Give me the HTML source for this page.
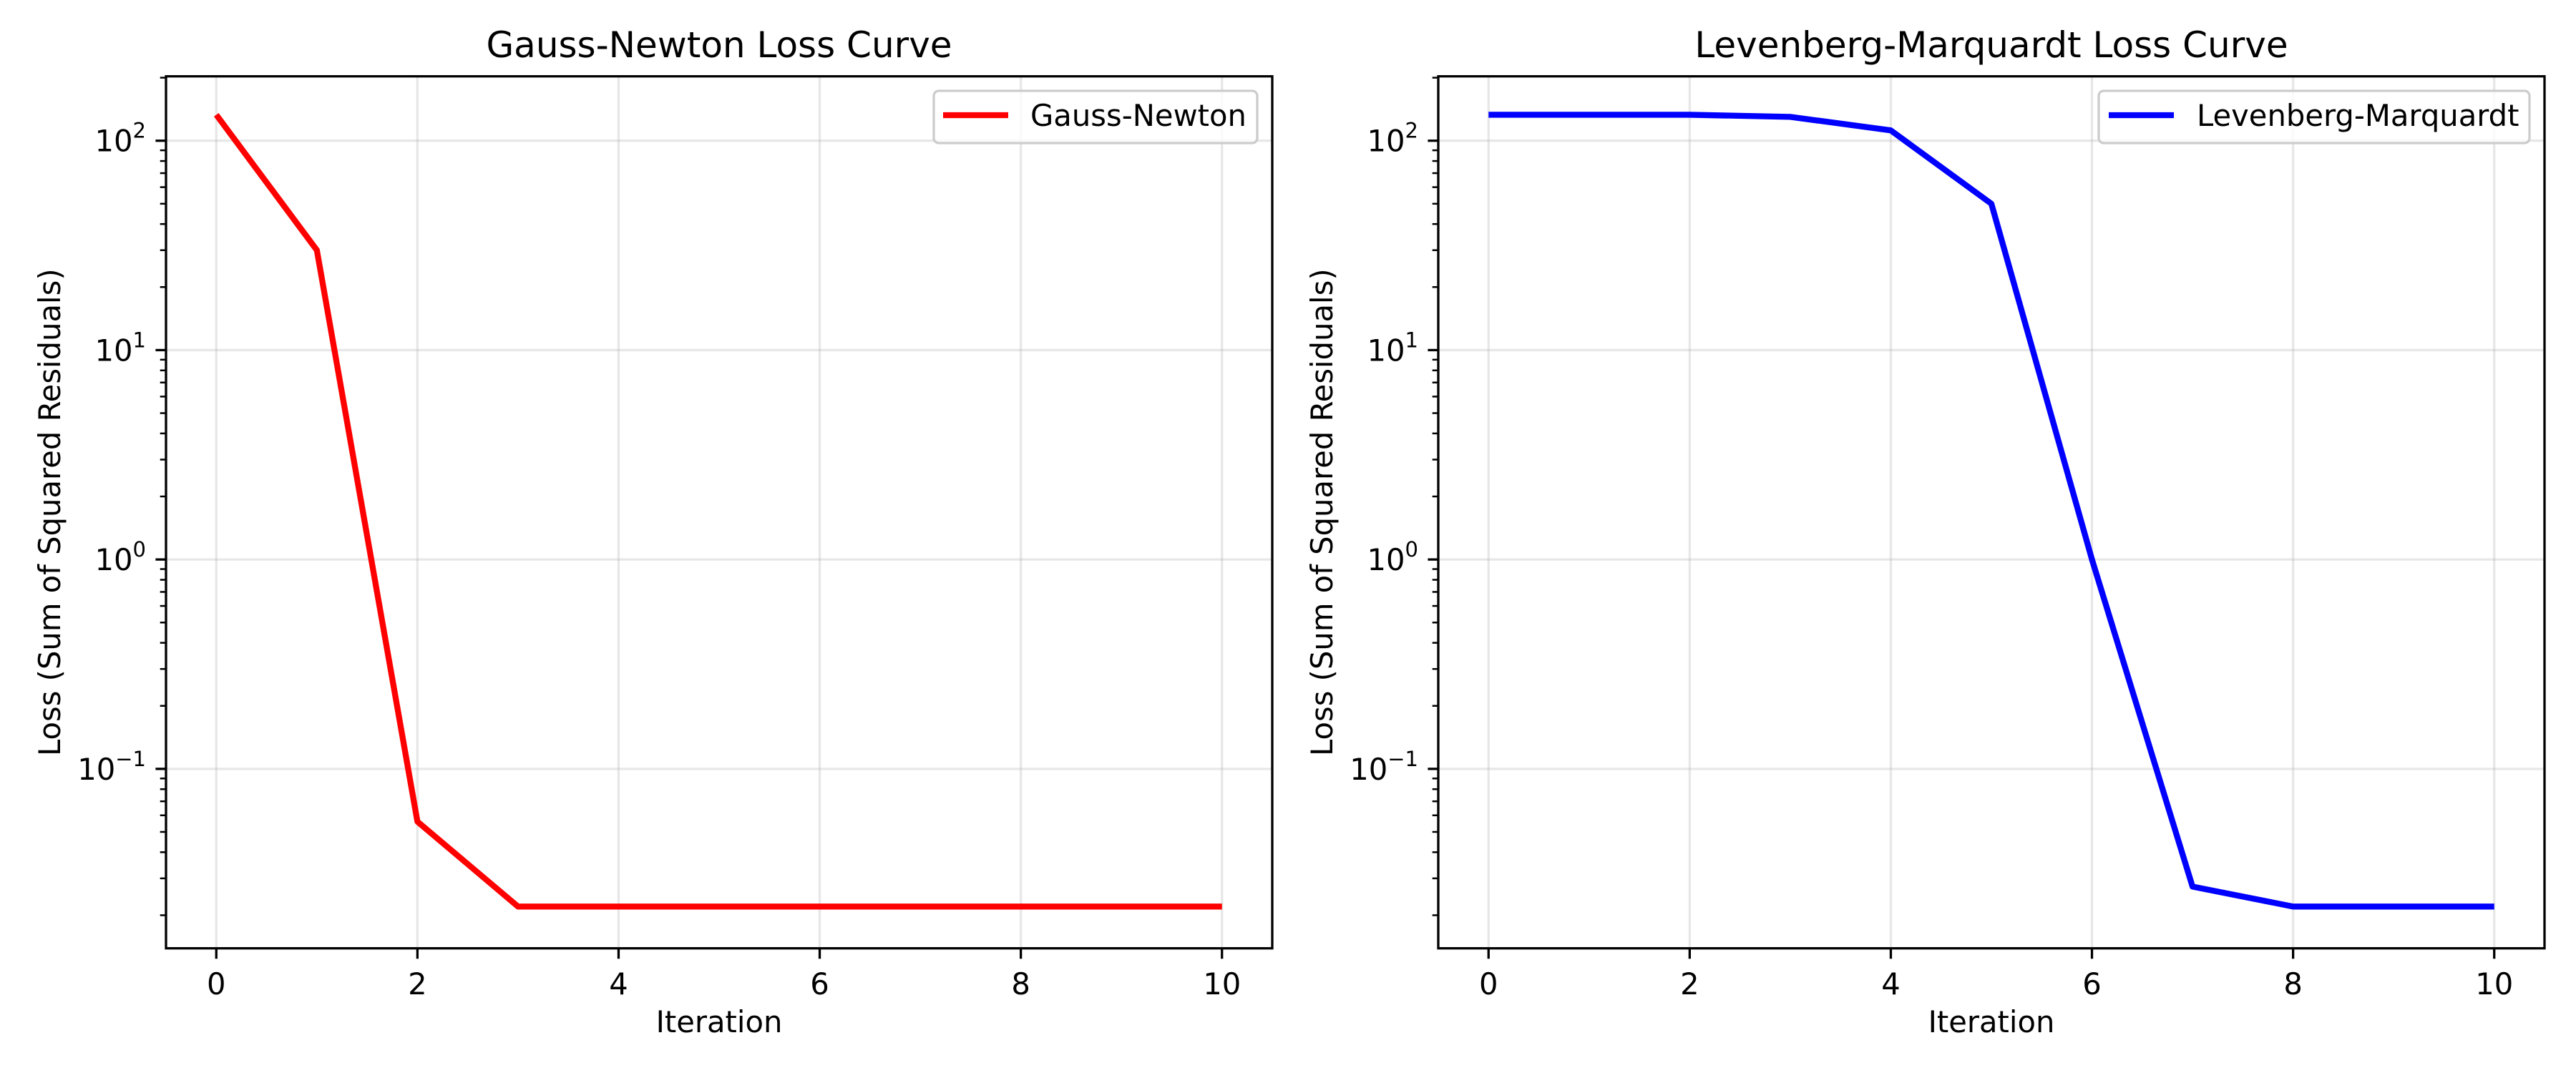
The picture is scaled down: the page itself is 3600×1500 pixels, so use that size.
<!DOCTYPE html>
<html><head><meta charset="utf-8"><style>
html,body{margin:0;padding:0;background:#fff;}
svg{display:block;font-family:"DejaVu Sans","Liberation Sans",sans-serif;}
</style></head><body>
<svg id="chart" width="3600" height="1500" viewBox="0 0 3600 1500" xmlns="http://www.w3.org/2000/svg"></svg>
<script>
const iterations = [0,1,2,3,4,5,6,7,8,9,10];
const gnLoss = [133, 30, 0.056, 0.022, 0.022, 0.022, 0.022, 0.022, 0.022, 0.022, 0.022];
const lmLoss = [133, 133, 133, 130, 112, 50, 1.0, 0.0274, 0.022, 0.022, 0.022];
const xTicks = [0,2,4,6,8,10];
const yDecades = [-1,0,1,2];
const titles = ["Gauss-Newton Loss Curve","Levenberg-Marquardt Loss Curve"];
const seriesNames = ["Gauss-Newton","Levenberg-Marquardt"];

const NS="http://www.w3.org/2000/svg";
const svg=document.getElementById('chart');
function mk(tag,attrs,parent){const e=document.createElementNS(NS,tag);for(const k in attrs)e.setAttribute(k,attrs[k]);(parent||svg).appendChild(e);return e;}

const panels=[
 {left:232,right:1778,data:gnLoss,color:"#ff0000",legL:1305,legLineX1:1318,legLineX2:1409,legTextX:1440,ylabX:69},
 {left:2010,right:3556,data:lmLoss,color:"#0000ff",legL:2933,legLineX1:2947,legLineX2:3038,legTextX:3070,ylabX:1847}
];
const axTop=106.7,axBottom=1325.7,xMin=-0.5,xMax=10.5,lTop=2.3075,lBot=-1.857;

panels.forEach((p,pi)=>{
 const g=mk('g',{});
 
 
 const xs=v=>p.left+(v-xMin)/(xMax-xMin)*(p.right-p.left);
 const ys=v=>axTop+(lTop-Math.log10(v))/(lTop-lBot)*(axBottom-axTop);
 xTicks.forEach(t=>{const l=mk('line',{x1:xs(t),x2:xs(t),y1:axTop,y2:axBottom,stroke:"#b0b0b0","stroke-opacity":0.3,"stroke-width":3.3},g);
  
  });
 yDecades.forEach(d=>{const l=mk('line',{x1:p.left,x2:p.right,y1:ys(Math.pow(10,d)),y2:ys(Math.pow(10,d)),stroke:"#b0b0b0","stroke-opacity":0.3,"stroke-width":3.3},g);
  
  });
 const pts=iterations.map((x,i)=>xs(x).toFixed(2)+","+ys(p.data[i]).toFixed(2)).join(" ");
 const line=mk('polyline',{points:pts,fill:"none",stroke:p.color,"stroke-width":8.3,"stroke-linejoin":"round","stroke-linecap":"butt"},g);
 
 
 const fr=mk('rect',{x:p.left,y:axTop,width:p.right-p.left,height:axBottom-axTop,fill:"none",stroke:"#000","stroke-width":3.3},g);
 
 
 xTicks.forEach(t=>{mk('line',{x1:xs(t),x2:xs(t),y1:axBottom,y2:axBottom+14.6,stroke:"#000","stroke-width":3.3},g);
  const tx=mk('text',{x:xs(t),y:1390,"font-size":41.7,"text-anchor":"middle",fill:"#000"},g);tx.textContent=t;
  
  });
 for(let d=-2;d<=2;d++){for(let m=1;m<10;m++){const v=m*Math.pow(10,d);const y=ys(v);if(y<axTop-0.5||y>axBottom+0.5)continue;
  if(m===1){mk('line',{x1:p.left-14.6,x2:p.left,y1:y,y2:y,stroke:"#000","stroke-width":3.3},g);
   const tx=mk('text',{x:p.left-28,y:y+15,"font-size":41.7,"text-anchor":"end",fill:"#000"},g);
   
   
   const a=mk('tspan',{},tx);a.textContent="10";
   const b=mk('tspan',{dy:-19,"font-size":29},tx);b.textContent=d<0?"\u2212"+(-d):String(d);
  } else mk('line',{x1:p.left-8.3,x2:p.left,y1:y,y2:y,stroke:"#000","stroke-width":2.5},g);}}
 const tt=mk('text',{x:(p.left+p.right)/2,y:80,"font-size":50,"text-anchor":"middle",fill:"#000"},g);tt.textContent=titles[pi];
 
 
 const xl=mk('text',{x:(p.left+p.right)/2,y:1443,"font-size":41.7,"text-anchor":"middle",fill:"#000"},g);xl.textContent="Iteration";
 
 
 const yl=mk('text',{x:0,y:0,"font-size":41.7,"text-anchor":"middle",fill:"#000",transform:`translate(${p.ylabX+15},${(axTop+axBottom)/2}) rotate(-90)`},g);yl.textContent="Loss (Sum of Squared Residuals)";
 
 
 const lg=mk('g',{},g);
 
 
 mk('rect',{x:p.legL,y:127,width:p.right-21-p.legL,height:73,rx:7,fill:"#fff","fill-opacity":0.8,stroke:"#cccccc","stroke-width":3.3},lg);
 mk('line',{x1:p.legLineX1,x2:p.legLineX2,y1:161,y2:161,stroke:p.color,"stroke-width":8.3},lg);
 const lt=mk('text',{x:p.legTextX,y:176,"font-size":41.7,fill:"#000"},lg);lt.textContent=seriesNames[pi];
 
 
});
</script>
</body></html>
